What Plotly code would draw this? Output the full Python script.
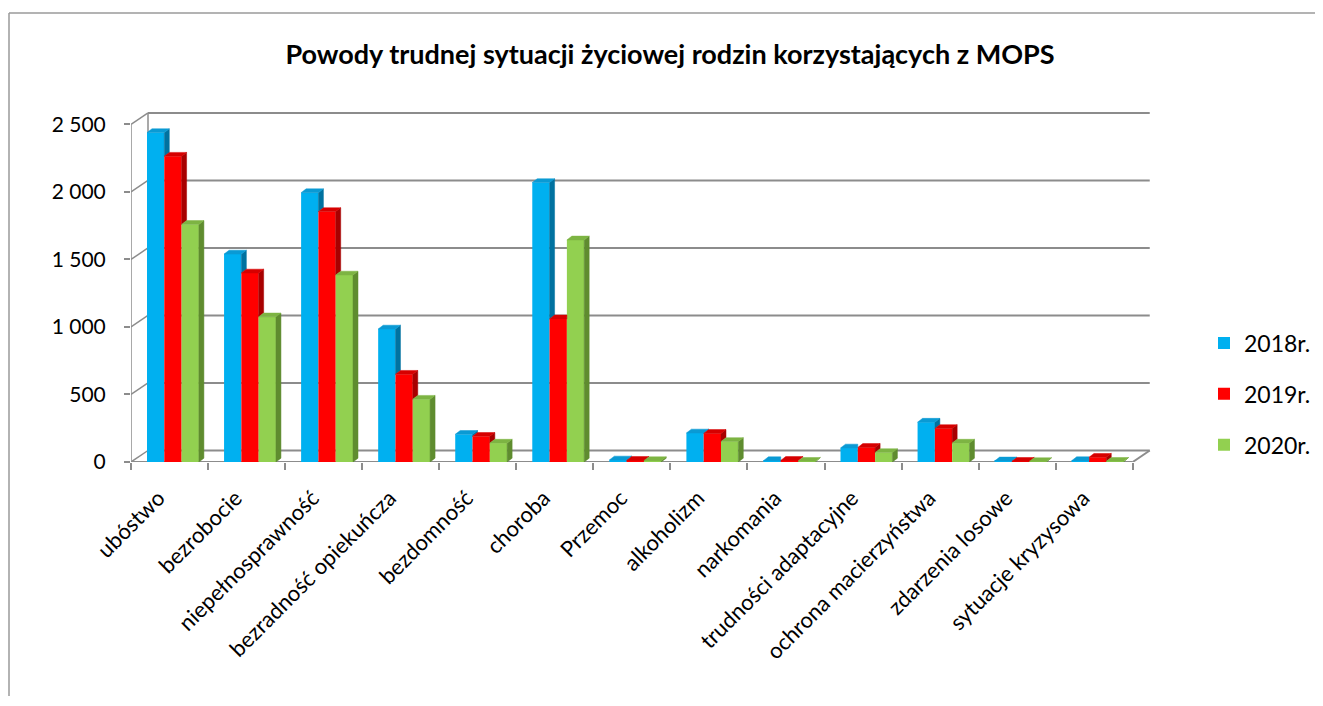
import plotly.graph_objects as go

# ---------------- data ----------------
categories = ["ubóstwo", "bezrobocie", "niepełnosprawność", "bezradność opiekuńcza",
              "bezdomność", "choroba", "Przemoc", "alkoholizm", "narkomania",
              "trudności adaptacyjne", "ochrona macierzyństwa", "zdarzenia losowe",
              "sytuacje kryzysowa"]
years = ["2018r.", "2019r.", "2020r."]
v2018 = [2440, 1540, 1995, 985, 205, 2070, 15, 215, 10, 104, 295, 8, 10]
v2019 = [2265, 1400, 1855, 650, 190, 1060, 12, 212, 12, 108, 248, 5, 35]
v2020 = [1760, 1075, 1385, 465, 140, 1645, 10, 152, 5, 70, 140, 3, 5]
y_ticks = [0, 500, 1000, 1500, 2000, 2500]
y_tick_labels = ["0", "500", "1 000", "1 500", "2 000", "2 500"]
title = "Powody trudnej sytuacji życiowej rodzin korzystających z MOPS"

# ---------------- style ----------------
front_col = ["#00B0F0", "#FF0000", "#92D050"]
side_col = ["#0072A0", "#A80000", "#5F8C2F"]
top_col = ["#0A9AD4", "#D60000", "#7DB443"]
grid_col = "#8C8C8C"
FONT = "Lato"

# page geometry (the page body has an 8px default margin)
OFF = 8
PAGE_W, PAGE_H = 1323, 706
PLOT_L, PLOT_T, PLOT_R, PLOT_B = 131, 108, 1152, 462   # plot area in page px
W, H = PAGE_W - 2 * OFF, PAGE_H - 2 * OFF - 2
ML, MT = PLOT_L - OFF, PLOT_T - OFF
PW, PH = PLOT_R - PLOT_L, PLOT_B - PLOT_T
MR, MB = W - ML - PW, H - MT - PH
XR = [-0.5, 12.75]
YR = [0, 2622]
PXX = PW / (XR[1] - XR[0])   # px per x unit
PXY = PH / (YR[1] - YR[0])   # px per y unit

n = len(categories)
series = [v2018, v2019, v2020]
bar_w = 17.3 / PXX
left_off = -0.5 + 16 / PXX
DX, DY = 17 / PXX, 11.5 / PXY        # wall depth
BDX, BDY = 5 / PXX, 3.8 / PXY        # bar depth
LABEL_SHIFT = -11 / PXX              # category label anchor shift

fig = go.Figure()

# front faces
for k in range(3):
    xs = [i + left_off + k * bar_w + bar_w / 2 for i in range(n)]
    fig.add_trace(go.Bar(x=xs, y=series[k], width=bar_w, name=years[k],
                         marker=dict(color=front_col[k], line=dict(width=0)),
                         legendgroup=years[k], hoverinfo="skip"))

# side and top faces
for k in range(3):
    sx, sy, tx, ty = [], [], [], []
    for i in range(n):
        v = series[k][i]
        xl = i + left_off + k * bar_w
        xr = xl + bar_w
        nxt = series[k + 1][i] if k < 2 else None
        base = 0 if k == 2 else nxt
        if v > base:
            sx += [xr, xr + BDX, xr + BDX, xr, xr, None]
            sy += [base, base + BDY, v + BDY, v, base, None]
        if k < 2 and nxt > v:
            tx += [xl, xl + BDX, xr, xr, xl, None]
            ty += [v, v + BDY, v + BDY, v, v, None]
        else:
            tx += [xl, xl + BDX, xr + BDX, xr, xl, None]
            ty += [v, v + BDY, v + BDY, v, v, None]
    fig.add_trace(go.Scatter(x=sx, y=sy, mode="lines", fill="toself",
                             fillcolor=side_col[k], line=dict(width=0.5, color=side_col[k]),
                             showlegend=False, hoverinfo="skip"))
    fig.add_trace(go.Scatter(x=tx, y=ty, mode="lines", fill="toself",
                             fillcolor=top_col[k], line=dict(width=0.5, color=top_col[k]),
                             showlegend=False, hoverinfo="skip"))

# walls / gridlines
shapes = []
def seg(x0, y0, x1, y1, w=2, c=grid_col):
    shapes.append(dict(type="line", xref="x", yref="y", x0=x0, y0=y0, x1=x1, y1=y1,
                       line=dict(color=c, width=w), layer="below"))

xmin, xmax = -0.5, n - 0.5
for v in y_ticks:
    seg(xmin + DX, v + DY, xmax + DX, v + DY)
    seg(xmin, v, xmin + DX, v + DY, w=1.5)
seg(xmin + DX, DY, xmin + DX, y_ticks[-1] + DY, w=1.5)
seg(xmin, 0, xmax, 0)
seg(xmax, 0, xmax + DX, DY)
seg(xmin, 0, xmin, y_ticks[-1], w=1.5)

# page px -> paper coords
def px2paper_x(px):
    return (px - PLOT_L) / PW
def px2paper_y(py):
    return (PLOT_B - py) / PH

# outer frame (top and left), kept inside the figure
FIG_R, FIG_B = OFF + W, OFF + H
for (x0, y0, x1, y1) in [(9, 13, FIG_R, 13), (9, 13, 9, FIG_B)]:
    shapes.append(dict(type="line", xref="paper", yref="paper",
                       x0=px2paper_x(x0), y0=px2paper_y(y0),
                       x1=px2paper_x(x1), y1=px2paper_y(y1),
                       line=dict(color="#9A9A9A", width=1.5)))

fig.update_layout(
    width=W, height=H,
    margin=dict(l=ML, r=MR, t=MT, b=MB, autoexpand=False),
    paper_bgcolor="white", plot_bgcolor="white",
    barmode="overlay",
    shapes=shapes,
    font=dict(family=FONT, color="#000000"),
    title=dict(text=title, xref="container", yref="container",
               x=(670 - OFF) / W, y=1 - (55 - OFF) / H, xanchor="center", yanchor="middle",
               font=dict(family=FONT, size=27, weight="bold", color="#000000")),
    xaxis=dict(range=XR, tickmode="array", tickvals=[i + LABEL_SHIFT for i in range(n)],
               ticktext=categories,
               tickangle=-45, ticks="", showgrid=False, zeroline=False, showline=False,
               tickfont=dict(family=FONT, size=22), ticklabelstandoff=18,
               minor=dict(tickmode="array", tickvals=[i - 0.5 for i in range(n + 1)],
                          ticks="outside", ticklen=7, tickcolor=grid_col, tickwidth=1.5,
                          showgrid=False),
               fixedrange=True),
    yaxis=dict(range=YR, tickmode="array", tickvals=y_ticks, ticktext=y_tick_labels,
               ticks="outside", ticklen=6, tickcolor=grid_col, tickwidth=1.5,
               showgrid=False, zeroline=False, showline=False,
               tickfont=dict(family=FONT, size=21), ticklabelstandoff=14,
               fixedrange=True),
    legend=dict(x=px2paper_x(1204), y=px2paper_y(394), xanchor="left", yanchor="middle",
                font=dict(family=FONT, size=23), tracegroupgap=18,
                bgcolor="rgba(0,0,0,0)"),
    showlegend=True,
)

fig.write_html("out.html",
               post_script="document.documentElement.style.overflow='hidden';"
                           "document.body.style.overflow='hidden';")
